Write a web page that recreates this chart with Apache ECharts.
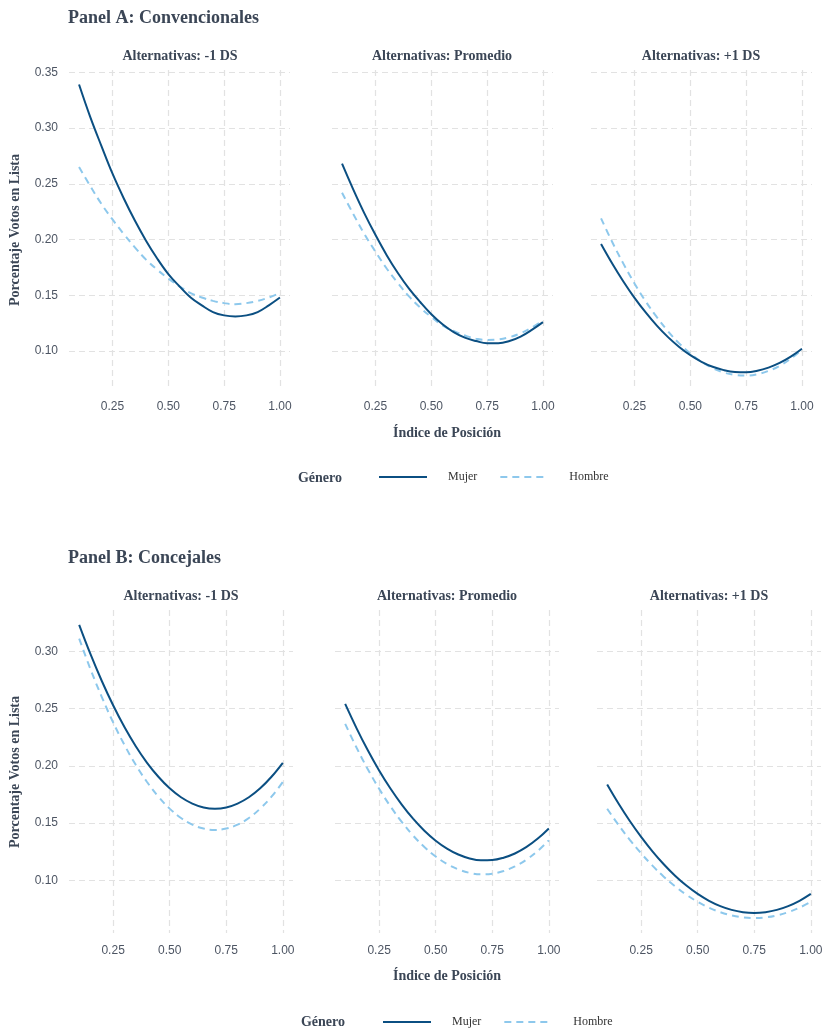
<!DOCTYPE html>
<html>
<head>
<meta charset="utf-8">
<script src="https://cdn.jsdelivr.net/npm/echarts@6/dist/echarts.min.js"></script>
<style>
html,body{margin:0;padding:0;background:#fff;}
#chart{width:833px;height:1028px;}
</style>
</head>
<body>
<div id="chart"></div>
<script>
// ---- Data ----
const xs = [0.10, 0.15, 0.20, 0.25, 0.30, 0.35, 0.40, 0.45, 0.50, 0.55, 0.60, 0.65, 0.70, 0.75, 0.80, 0.85, 0.90, 0.95, 1.00];
const xTicks = [0.25, 0.5, 0.75, 1.0];
const yTicksA = [0.10, 0.15, 0.20, 0.25, 0.30, 0.35];
const yTicksB = [0.10, 0.15, 0.20, 0.25, 0.30];
const facetTitles = ['Alternativas: -1 DS', 'Alternativas: Promedio', 'Alternativas: +1 DS'];
const genders = ['Mujer', 'Hombre'];

// Panel A: Convencionales
const convMujerMenos1 = [0.339, 0.310, 0.284, 0.259, 0.237, 0.217, 0.199, 0.183, 0.169, 0.158, 0.148, 0.141, 0.135, 0.132, 0.131, 0.132, 0.135, 0.141, 0.148];
const convHombreMenos1 = [0.265, 0.248, 0.232, 0.218, 0.205, 0.193, 0.182, 0.173, 0.165, 0.158, 0.152, 0.148, 0.145, 0.143, 0.142, 0.143, 0.145, 0.148, 0.152];
const convMujerProm = [0.268, 0.245, 0.2235, 0.204, 0.186, 0.170, 0.156, 0.144, 0.133, 0.124, 0.117, 0.112, 0.109, 0.107, 0.107, 0.109, 0.113, 0.119, 0.126];
const convHombreProm = [0.242, 0.223, 0.205, 0.189, 0.174, 0.161, 0.149, 0.139, 0.1305, 0.123, 0.118, 0.114, 0.111, 0.110, 0.1105, 0.1125, 0.116, 0.121, 0.1275];
const convMujerMas1 = [0.196, 0.1785, 0.1624, 0.1477, 0.1346, 0.1228, 0.1125, 0.1037, 0.0963, 0.0904, 0.0859, 0.0829, 0.0813, 0.0811, 0.0824, 0.0852, 0.0894, 0.0950, 0.1021];
const convHombreMas1 = [0.219, 0.1978, 0.1784, 0.1606, 0.1446, 0.1304, 0.1178, 0.1069, 0.0978, 0.0904, 0.0847, 0.0808, 0.0786, 0.0780, 0.0792, 0.0822, 0.0868, 0.0932, 0.1013];

// Panel B: Concejales
const concMujerMenos1 = [0.323, 0.2974, 0.274, 0.2528, 0.2338, 0.2171, 0.2026, 0.1904, 0.1803, 0.1725, 0.167, 0.1636, 0.1625, 0.1636, 0.167, 0.1725, 0.1803, 0.1904, 0.2026];
const concHombreMenos1 = [0.311, 0.2843, 0.260, 0.2379, 0.2182, 0.2008, 0.1858, 0.173, 0.1626, 0.1544, 0.1486, 0.1452, 0.144, 0.1452, 0.1486, 0.1544, 0.1626, 0.173, 0.1858];
const concMujerProm = [0.254, 0.2329, 0.2135, 0.1959, 0.1801, 0.1661, 0.1538, 0.1433, 0.1346, 0.1277, 0.1225, 0.1191, 0.1175, 0.1177, 0.1197, 0.1234, 0.1289, 0.1362, 0.1453];
const concHombreProm = [0.2366, 0.2159, 0.197, 0.1799, 0.1646, 0.151, 0.1391, 0.1291, 0.1208, 0.1142, 0.1095, 0.1065, 0.1052, 0.1058, 0.1081, 0.1121, 0.1179, 0.1255, 0.1349];
const concMujerMas1 = [0.1837, 0.1671, 0.1518, 0.1379, 0.1253, 0.114, 0.104, 0.0954, 0.0881, 0.0821, 0.0775, 0.0742, 0.0722, 0.0715, 0.0722, 0.0742, 0.0775, 0.0821, 0.0881];
const concHombreMas1 = [0.1625, 0.1484, 0.1354, 0.1236, 0.1128, 0.1032, 0.0948, 0.0874, 0.0812, 0.0761, 0.0722, 0.0694, 0.0677, 0.0671, 0.0677, 0.0694, 0.0722, 0.0761, 0.0812];

// ---- Styles ----
const MUJER = '#0b4f82';
const HOMBRE = '#8dc8ec';
const TITLE_C = '#3b4656';
const LABEL_C = '#4d5563';
const GRID_C = '#e2e2e2';
const SERIF = '"Liberation Serif", "DejaVu Serif", serif';
const SANS = '"Liberation Sans", Arial, sans-serif';

const panels = [
  { top: 70, height: 319, lefts: [69, 332, 591], width: 221, yMin: 0.066, yMax: 0.352, yTicks: yTicksA,
    data: [[convMujerMenos1, convHombreMenos1], [convMujerProm, convHombreProm], [convMujerMas1, convHombreMas1]] },
  { top: 610, height: 323, lefts: [69, 335, 597], width: 224, yMin: 0.054, yMax: 0.336, yTicks: yTicksB,
    data: [[concMujerMenos1, concHombreMenos1], [concMujerProm, concHombreProm], [concMujerMas1, concHombreMas1]] }
];

const grid = [], xAxis = [], yAxis = [], series = [];
let gi = 0;
panels.forEach((p, pi) => {
  for (let f = 0; f < 3; f++) {
    grid.push({ left: p.lefts[f], top: p.top, width: p.width, height: p.height, containLabel: false });
    xAxis.push({
      type: 'value', gridIndex: gi, min: 0.055, max: 1.045,
      axisLine: { show: false },
      axisTick: { show: false, customValues: xTicks },
      axisLabel: { customValues: xTicks, formatter: v => v.toFixed(2), color: LABEL_C, fontFamily: SANS, fontSize: 12, margin: 12 },
      splitLine: { show: true, lineStyle: { color: GRID_C, type: [6, 4], width: 1.2 } }
    });
    yAxis.push({
      type: 'value', gridIndex: gi, min: p.yMin, max: p.yMax,
      axisLine: { show: false },
      axisTick: { show: false, customValues: p.yTicks },
      axisLabel: { show: f === 0, customValues: p.yTicks, formatter: v => v.toFixed(2), color: LABEL_C, fontFamily: SANS, fontSize: 12, margin: 11 },
      splitLine: { show: true, lineStyle: { color: GRID_C, type: [6, 4], width: 1.2 } }
    });
    const [m, h] = p.data[f];
    series.push({
      name: genders[1], type: 'line', xAxisIndex: gi, yAxisIndex: gi, smooth: 0.4, symbol: 'none',
      data: xs.map((x, i) => [x, h[i]]),
      lineStyle: { color: HOMBRE, width: 2, type: [7, 5] }, itemStyle: { color: HOMBRE }, z: 2
    });
    series.push({
      name: genders[0], type: 'line', xAxisIndex: gi, yAxisIndex: gi, smooth: 0.4, symbol: 'none',
      data: xs.map((x, i) => [x, m[i]]),
      lineStyle: { color: MUJER, width: 2, type: 'solid' }, itemStyle: { color: MUJER }, z: 3
    });
    gi++;
  }
});

function txt(x, y, text, size, opts) {
  return Object.assign({
    type: 'text', x: x, y: y,
    style: Object.assign({ text: text, fill: TITLE_C, font: 'bold ' + size + 'px ' + SERIF, textAlign: 'center', textVerticalAlign: 'middle' }, (opts && opts.style) || {})
  }, opts && opts.rotation !== undefined ? { rotation: opts.rotation } : {});
}

const graphic = [
  txt(68, 18, 'Panel A: Convencionales', 18, { style: { textAlign: 'left' } }),
  txt(68, 558, 'Panel B: Concejales', 18, { style: { textAlign: 'left' } }),
  txt(180, 56, facetTitles[0], 14), txt(442, 56, facetTitles[1], 14), txt(701, 56, facetTitles[2], 14),
  txt(181, 596, facetTitles[0], 14), txt(447, 596, facetTitles[1], 14), txt(709, 596, facetTitles[2], 14),
  txt(447, 433, 'Índice de Posición', 14),
  txt(447, 976, 'Índice de Posición', 14),
  txt(15, 230, 'Porcentaje Votos en Lista', 14, { rotation: Math.PI / 2 }),
  txt(15, 772, 'Porcentaje Votos en Lista', 14, { rotation: Math.PI / 2 }),
  txt(320, 478, 'Género', 14),
  txt(323, 1022, 'Género', 14)
];

const legendCommon = {
  data: genders, itemWidth: 48, itemHeight: 14, itemGap: 22,
  itemStyle: { opacity: 0 },
  textStyle: { fontFamily: SERIF, fontSize: 12, color: '#333', padding: [0, 0, 0, 16] },
  selectedMode: false
};

const option = {
  backgroundColor: '#ffffff',
  animation: false,
  grid, xAxis, yAxis, series, graphic,
  legend: [
    Object.assign({ left: 373, top: 466 }, legendCommon),
    Object.assign({ left: 377, top: 1011 }, legendCommon)
  ]
};

const chart = echarts.init(document.getElementById('chart'), null, { renderer: 'canvas' });
chart.setOption(option);
</script>
</body>
</html>
